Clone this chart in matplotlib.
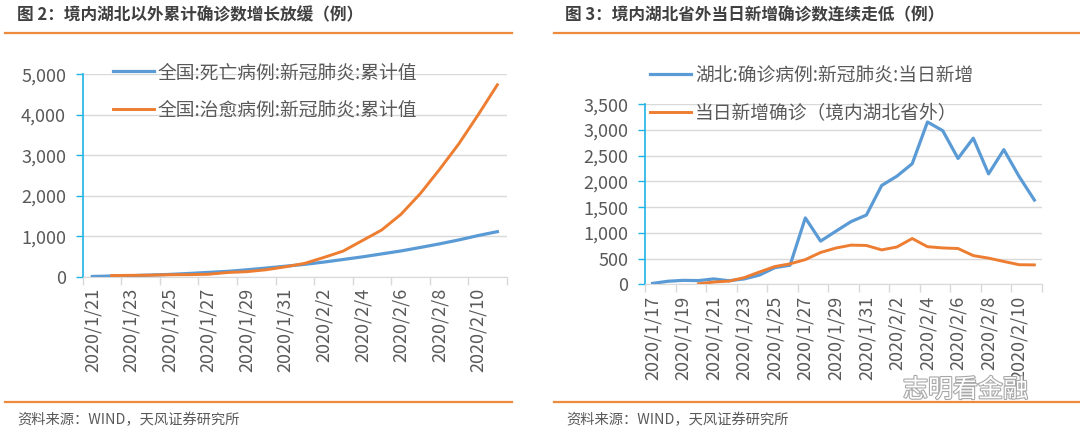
import matplotlib
matplotlib.use('Agg')
from matplotlib import pyplot as plt
import matplotlib.patheffects as pe

plt.rcParams['font.family'] = ['Noto Sans CJK SC', 'DejaVu Sans']

# ---- data ----
dates_l = ['2020/1/21', '2020/1/22', '2020/1/23', '2020/1/24', '2020/1/25', '2020/1/26',
           '2020/1/27', '2020/1/28', '2020/1/29', '2020/1/30', '2020/1/31', '2020/2/1',
           '2020/2/2', '2020/2/3', '2020/2/4', '2020/2/5', '2020/2/6', '2020/2/7',
           '2020/2/8', '2020/2/9', '2020/2/10', '2020/2/11']
deaths_cum = [6, 17, 25, 41, 56, 80, 106, 132, 170, 213, 259, 304, 361, 425, 490, 563,
              636, 722, 811, 908, 1016, 1113]
# cured series starts on 1/22
cured_cum = [None, 28, 34, 38, 49, 51, 60, 103, 124, 171, 243, 328, 475, 632, 892, 1153,
             1540, 2050, 2649, 3281, 3996, 4740]

dates_r = ['2020/1/17', '2020/1/18', '2020/1/19', '2020/1/20'] + dates_l
hubei_new = [17, 59, 77, 72, 105, 69, 105, 180, 323, 371, 1291, 840, 1032, 1220, 1347,
             1921, 2103, 2345, 3156, 2987, 2447, 2841, 2147, 2618, 2097, 1638]
# outside-Hubei series starts on 1/20
outside_new = [None, None, None, 10, 44, 62, 130, 240, 345, 398, 480, 619, 705, 762, 755,
               669, 726, 890, 731, 707, 696, 558, 509, 444, 381, 377]

W, H = 1080, 437
BLUE = '#5B9BD5'
ORANGE = '#ED7D31'
RULE = '#EE8A3C'
TXT = '#595959'
GRID = '#D9D9D9'
AXBLUE = '#1EB4E6'


def fx(px):
    return px / W


def fy(py):
    return 1 - py / H


fig = plt.figure(figsize=(W / 100, H / 100), dpi=100)


def draw_panel(x0, y0, x1, y1, labels, s1, s2, n1, n2, ymax, ystep, legx, legy):
    ax = fig.add_axes([fx(x0), fy(y1), fx(x1 - x0), (y1 - y0) / H])
    n = len(labels)
    xs = list(range(n))
    p1 = [(x, v) for x, v in zip(xs, s1) if v is not None]
    p2 = [(x, v) for x, v in zip(xs, s2) if v is not None]
    ax.plot([p[0] for p in p1], [p[1] for p in p1], color=BLUE, lw=2.3, label=n1,
            solid_joinstyle='round', zorder=3)
    ax.plot([p[0] for p in p2], [p[1] for p in p2], color=ORANGE, lw=2.1, label=n2,
            solid_joinstyle='round', zorder=3)
    ax.set_xlim(-0.5, n - 0.5)
    ax.set_ylim(0, ymax)
    yt = list(range(0, ymax + 1, ystep))
    ax.set_yticks(yt)
    ax.set_yticklabels([f'{v:,}' for v in yt])
    ax.set_xticks(xs[::2])
    ax.set_xticklabels(labels[::2], rotation=90)
    ax.set_xticks([x - 0.5 for x in range(0, n + 1, 2)], minor=True)
    ax.tick_params(axis='x', which='major', length=0, pad=8, labelsize=13, labelcolor=TXT)
    ax.tick_params(axis='x', which='minor', length=6, color=GRID, width=1)
    ax.tick_params(axis='y', length=5, color=AXBLUE, width=1, pad=7, labelsize=13,
                   labelcolor=TXT)
    ax.grid(axis='y', color=GRID, lw=1)
    for s in ['top', 'right']:
        ax.spines[s].set_visible(False)
    ax.spines['left'].set_color(AXBLUE)
    ax.spines['left'].set_linewidth(1.2)
    ax.spines['bottom'].set_color(GRID)
    ax.set_axisbelow(True)
    ax.patch.set_alpha(0)
    leg = ax.legend(loc='upper left', bbox_to_anchor=(fx(legx), fy(legy)),
                    bbox_transform=fig.transFigure, frameon=False, fontsize=13.5,
                    handlelength=2.2, handletextpad=0.2, labelspacing=0.9,
                    borderpad=0, borderaxespad=0)
    for t in leg.get_texts():
        t.set_color(TXT)
    return ax


draw_panel(82.7, 74.3, 507, 276.7, dates_l, deaths_cum, cured_cum,
           '全国:死亡病例:新冠肺炎:累计值', '全国:治愈病例:新冠肺炎:累计值',
           5000, 1000, 113, 62)
draw_panel(645, 104.3, 1042, 284.3, dates_r, hubei_new, outside_new,
           '湖北:确诊病例:新冠肺炎:当日新增', '当日新增确诊（境内湖北省外）',
           3500, 500, 650, 65)

# titles, rules and source notes
fig.text(fx(17), fy(15), '图 2：境内湖北以外累计确诊数增长放缓（例）', fontsize=12,
         fontweight='bold', color='#404040', va='center', ha='left')
fig.text(fx(565), fy(15), '图 3：境内湖北省外当日新增确诊数连续走低（例）', fontsize=12,
         fontweight='bold', color='#404040', va='center', ha='left')
for xa, xb in [(5, 512), (554, 1080)]:
    for yy in [33, 402]:
        fig.add_artist(plt.Line2D([fx(xa), fx(xb)], [fy(yy), fy(yy)], color=RULE, lw=1.6))
fig.text(fx(17), fy(420), '资料来源：WIND，天风证券研究所', fontsize=10.3, color=TXT,
         va='center', ha='left')
fig.text(fx(566), fy(420), '资料来源：WIND，天风证券研究所', fontsize=10.3, color=TXT,
         va='center', ha='left')
fig.text(fx(903), fy(390), '志明看金融', fontsize=18, color='white', va='center', ha='left',
         path_effects=[pe.withStroke(linewidth=1.6, foreground='#A8A8A8')])

fig.savefig('out.png', dpi=100)
plt.close()
